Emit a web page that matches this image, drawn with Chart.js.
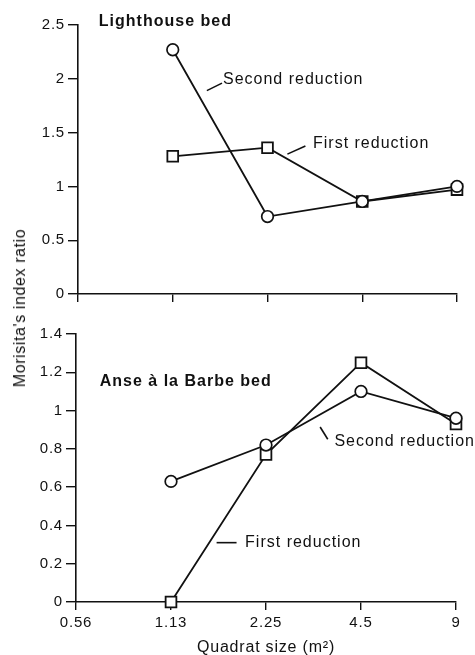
<!DOCTYPE html>
<html>
<head>
<meta charset="utf-8">
<script src="https://cdn.jsdelivr.net/npm/chart.js@4/dist/chart.umd.min.js"></script>
<style>
html, body { margin: 0; padding: 0; background: #fff; }
#wrap { position: relative; width: 475px; height: 655px; overflow: hidden; background: #fff; }
#c1 { position: absolute; left: 0; top: 0; }
#c2 { position: absolute; left: 0; top: 310px; }
#ytitle {
  position: absolute; left: 20px; top: 308px;
  transform: translate(-50%, -50%) rotate(-90deg);
  font: 16px "Liberation Sans", Arial, sans-serif;
  letter-spacing: 0.6px; white-space: nowrap; color: #111;
}
</style>
</head>
<body>
<div id="wrap">
  <canvas id="c1" width="475" height="310"></canvas>
  <canvas id="c2" width="475" height="345"></canvas>
  <div id="ytitle">Morisita's index ratio</div>
</div>
<script>
// ---- data ----
const categories = ['0.56', '1.13', '2.25', '4.5', '9'];
const lighthouseFirst  = [null, 1.28, 1.36, 0.86, 0.97];
const lighthouseSecond = [null, 2.27, 0.72, 0.86, 1.00];
const anseFirst  = [null, 0.00, 0.77, 1.25, 0.93];
const anseSecond = [null, 0.63, 0.82, 1.10, 0.96];
const topTicks = [0, 0.5, 1, 1.5, 2, 2.5];
const topTickLabels = ['0', '0.5', '1', '1.5', '2', '2.5'];
const bottomTicks = [0, 0.2, 0.4, 0.6, 0.8, 1, 1.2, 1.4];
const bottomTickLabels = ['0', '0.2', '0.4', '0.6', '0.8', '1', '1.2', '1.4'];
const xTitle = 'Quadrat size (m\u00B2)';

// ---- styles ----
const INK = '#111';
const FONT = '"Liberation Sans", Arial, Helvetica, sans-serif';

const spacingPlugin = {
  id: 'spacing',
  beforeUpdate(chart) { chart.ctx.letterSpacing = '0.8px'; },
  beforeLayout(chart) { chart.ctx.letterSpacing = '0.8px'; },
  beforeDraw(chart) { chart.ctx.letterSpacing = '0.8px'; }
};

// annotations given in data coordinates (x = category index, y = value)
const notesPlugin = {
  id: 'notes',
  afterDraw(chart, args, opts) {
    const ctx = chart.ctx;
    const xs = chart.scales.x, ys = chart.scales.y;
    ctx.save();
    ctx.letterSpacing = '1px';
    ctx.strokeStyle = INK;
    ctx.lineWidth = 1.6;
    (opts.leaders || []).forEach(l => {
      ctx.beginPath();
      ctx.moveTo(xs.getPixelForValue(l[0]), ys.getPixelForValue(l[1]));
      ctx.lineTo(xs.getPixelForValue(l[2]), ys.getPixelForValue(l[3]));
      ctx.stroke();
    });
    ctx.fillStyle = INK;
    ctx.textBaseline = 'middle';
    ctx.textAlign = 'left';
    (opts.texts || []).forEach(t => {
      ctx.font = (t.bold ? 'bold ' : '') + '16px ' + FONT;
      ctx.fillText(t.text, xs.getPixelForValue(t.x), ys.getPixelForValue(t.y));
    });
    ctx.restore();
  }
};

function seriesDatasets(first, second) {
  return [
    { label: 'Second reduction', data: second, borderColor: INK, borderWidth: 1.8,
      pointStyle: 'circle', pointRadius: 5.8, pointBackgroundColor: '#fff',
      pointBorderColor: INK, pointBorderWidth: 1.7, clip: false, tension: 0 },
    { label: 'First reduction', data: first, borderColor: INK, borderWidth: 1.8,
      pointStyle: 'rect', pointRadius: 7.6, pointBackgroundColor: '#fff',
      pointBorderColor: INK, pointBorderWidth: 1.8, clip: false, tension: 0 }
  ];
}

function makeChart(id, cfg) {
  return new Chart(document.getElementById(id), {
    type: 'line',
    data: { labels: categories, datasets: seriesDatasets(cfg.first, cfg.second) },
    plugins: [spacingPlugin, notesPlugin],
    options: {
      responsive: false,
      animation: false,
      devicePixelRatio: 1,
      layout: { padding: cfg.padding },
      plugins: {
        legend: { display: false },
        tooltip: { enabled: false },
        notes: cfg.notes
      },
      scales: {
        x: {
          type: 'category',
          offset: false,
          grid: { display: true, drawOnChartArea: false, drawTicks: true, tickLength: 8,
                  color: INK, lineWidth: 1.4 },
          border: { display: true, color: INK, width: 1.6 },
          ticks: { display: cfg.xLabels, color: INK, padding: 4, autoSkip: false, maxRotation: 0,
                   font: { family: FONT, size: 15 } },
          title: { display: cfg.xLabels, text: xTitle, color: INK,
                   font: { family: FONT, size: 16, lineHeight: 1 }, padding: { top: 0, bottom: -1 } },
          afterFit(s) { s.height = cfg.xHeight; }
        },
        y: {
          type: 'linear',
          min: 0, max: cfg.max,
          afterBuildTicks(s) { s.ticks = cfg.ticks.map(v => ({ value: v })); },
          grid: { display: true, drawOnChartArea: false, drawTicks: true, tickLength: 10,
                  color: INK, lineWidth: 1.4 },
          border: { display: true, color: INK, width: 1.6 },
          ticks: { color: INK, padding: 3, font: { family: FONT, size: 15 },
                   callback: (v, i) => cfg.tickLabels[i] },
          afterFit(s) { s.width = cfg.yWidth; }
        }
      }
    }
  });
}

makeChart('c1', {
  first: lighthouseFirst, second: lighthouseSecond,
  max: 2.5, ticks: topTicks, tickLabels: topTickLabels,
  xLabels: false, xHeight: 16, yWidth: 78,
  padding: { top: 25, right: 18, bottom: 0, left: 0 },
  notes: {
    texts: [
      { text: 'Lighthouse bed', x: 0.22, y: 2.53, bold: true },
      { text: 'Second reduction', x: 1.53, y: 1.99 },
      { text: 'First reduction', x: 2.48, y: 1.40 }
    ],
    leaders: [
      [1.36, 1.89, 1.52, 1.96],
      [2.21, 1.30, 2.40, 1.375]
    ]
  }
});

makeChart('c2', {
  first: anseFirst, second: anseSecond,
  max: 1.4, ticks: bottomTicks, tickLabels: bottomTickLabels,
  xLabels: true, xHeight: 53, yWidth: 76,
  padding: { top: 24, right: 19, bottom: 0, left: 0 },
  notes: {
    texts: [
      { text: 'Anse \u00E0 la Barbe bed', x: 0.25, y: 1.15, bold: true },
      { text: 'Second reduction', x: 2.72, y: 0.84 },
      { text: 'First reduction', x: 1.78, y: 0.31 }
    ],
    leaders: [
      [2.57, 0.914, 2.65, 0.85],
      [1.48, 0.31, 1.69, 0.31]
    ]
  }
});
</script>
</body>
</html>
